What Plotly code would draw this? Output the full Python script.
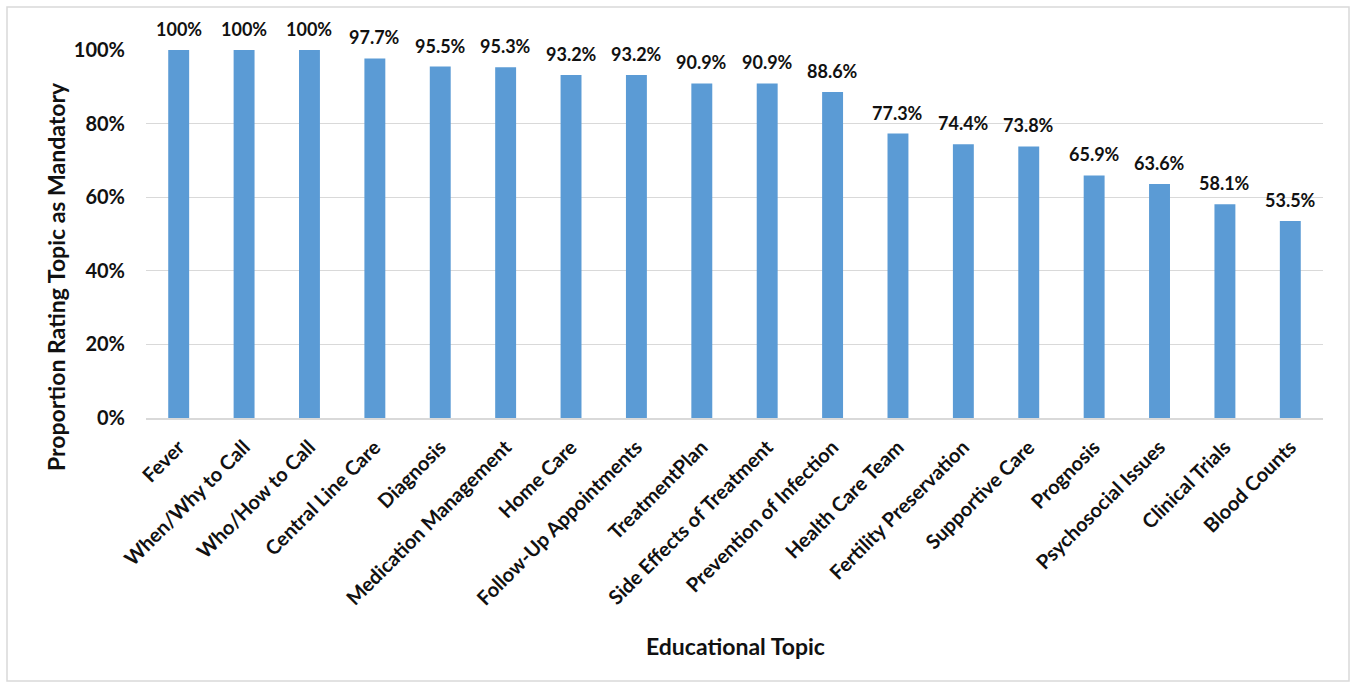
import plotly.graph_objects as go

categories = ["Fever", "When/Why to Call", "Who/How to Call", "Central Line Care", "Diagnosis",
              "Medication Management", "Home Care", "Follow-Up Appointments", "TreatmentPlan",
              "Side Effects of Treatment", "Prevention of Infection", "Health Care Team",
              "Fertility Preservation", "Supportive Care", "Prognosis", "Psychosocial Issues",
              "Clinical Trials", "Blood Counts"]
values = [100, 100, 100, 97.7, 95.5, 95.3, 93.2, 93.2, 90.9, 90.9, 88.6, 77.3, 74.4, 73.8,
          65.9, 63.6, 58.1, 53.5]
labels = ["100%" if v == 100 else f"{v:.1f}%" for v in values]
y_ticks = [0, 20, 40, 60, 80, 100]
y_tick_labels = [f"{t}%" for t in y_ticks]

W, H = 1353, 686
L, R, T, B = 146, 30, 50, 268
pw, ph = W - L - R, H - T - B

def px_x(x):
    return (x - L) / pw

def px_y(y):
    return (H - B - y) / ph

FONT = "Lato, Carlito, 'Liberation Sans', sans-serif"

fig = go.Figure()
fig.add_trace(go.Bar(
    x=categories, y=values,
    marker=dict(color="#5B9BD5", line=dict(color="#5B9BD5", width=0)),
    cliponaxis=False,
))

value_annotations = [
    dict(x=c, y=v, xref="x", yref="y", text=t, showarrow=False,
         xanchor="center", yanchor="middle", yshift=21,
         font=dict(family=FONT, size=18, color="#111111", weight="bold"))
    for c, v, t in zip(categories, values, labels)
]

fig.update_layout(
    width=W, height=H,
    margin=dict(l=L, r=R, t=T, b=B),
    paper_bgcolor="white", plot_bgcolor="white",
    bargap=0.68,
    showlegend=False,
    font=dict(family=FONT, color="#111111"),
    xaxis=dict(
        tickangle=-45, showgrid=False, ticks="",
        tickfont=dict(family=FONT, size=20, color="#111111", weight="bold"),
        showline=True, linecolor="#d9d9d9", linewidth=1.5,
        ticklabelstandoff=8,
    ),
    yaxis=dict(
        range=[0, 100], tickvals=y_ticks, ticktext=y_tick_labels,
        showgrid=True, gridcolor="#d9d9d9", gridwidth=1,
        zeroline=False, ticks="", ticklen=0,
        tickfont=dict(family=FONT, size=20, color="#111111", weight="bold"),
        automargin=False, ticklabelstandoff=20,
    ),
    shapes=[dict(type="rect", xref="paper", yref="paper",
                 x0=px_x(7), x1=px_x(1349), y0=px_y(681), y1=px_y(7),
                 line=dict(color="#d9d9d9", width=1.5), fillcolor="rgba(0,0,0,0)", layer="below")],
    annotations=value_annotations + [
        dict(text="Proportion Rating Topic as Mandatory", xref="paper", yref="paper",
             x=px_x(56), y=px_y(277), textangle=-90, showarrow=False,
             xanchor="center", yanchor="middle",
             font=dict(family=FONT, size=23, color="#111111", weight="bold")),
        dict(text="Educational Topic", xref="paper", yref="paper",
             x=px_x(735), y=px_y(646), showarrow=False,
             xanchor="center", yanchor="middle",
             font=dict(family=FONT, size=23, color="#111111", weight="bold")),
    ],
)
fig.update_xaxes(automargin=False)

fig.write_html("out.html")
